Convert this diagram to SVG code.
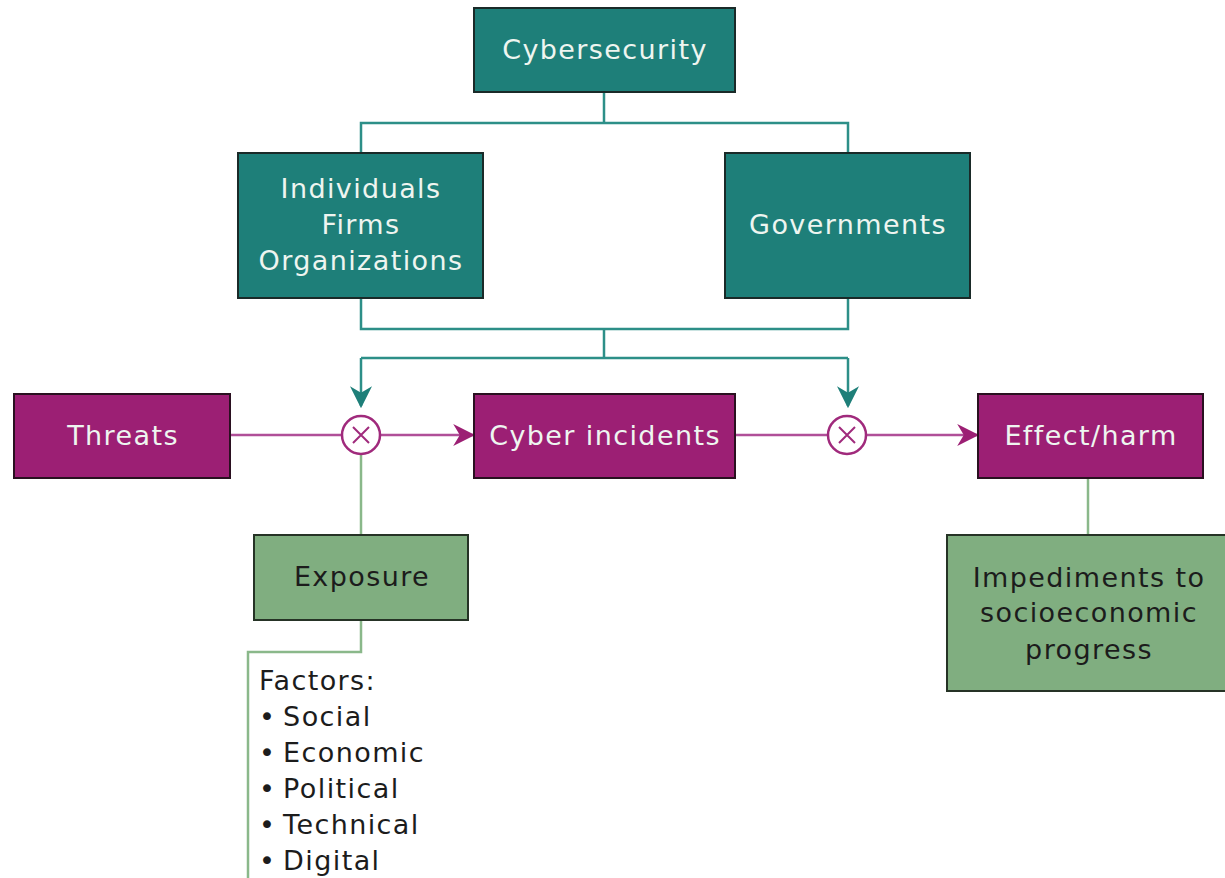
<svg xmlns="http://www.w3.org/2000/svg" width="1225" height="878" viewBox="0 0 1225 878">
<style>
.t{fill:#1e7f79;stroke:#1a2a28;stroke-width:2}
.m{fill:#9c1f74;stroke:#2a1020;stroke-width:2}
.g{fill:#80ae80;stroke:#263326;stroke-width:2}
.lt{fill:#eef5f0;font-family:"DejaVu Sans","Liberation Sans",sans-serif;font-size:27px;letter-spacing:1.4px;text-anchor:middle}
.dk{fill:#1c1c1c;font-family:"DejaVu Sans","Liberation Sans",sans-serif;font-size:27px;letter-spacing:1.4px;text-anchor:middle}
.cl{fill:none;stroke:#2d8f88;stroke-width:2.5}
.ml{fill:none;stroke:#b04f98;stroke-width:2.5}
.gl{fill:none;stroke:#8ab88a;stroke-width:2.5}
.cir{fill:#fff;stroke:#a02a7c;stroke-width:2.5}
</style>
<defs>
<marker id="ta" viewBox="0 0 10 10" refX="9" refY="5" markerWidth="22" markerHeight="22" orient="auto" markerUnits="userSpaceOnUse">
<path d="M0,0 L10,5 L0,10 L3,5 Z" fill="#1e7f79"/>
</marker>
<marker id="ma" viewBox="0 0 10 10" refX="9" refY="5" markerWidth="22" markerHeight="22" orient="auto" markerUnits="userSpaceOnUse">
<path d="M0,0 L10,5 L0,10 L3,5 Z" fill="#9c1f74"/>
</marker>
</defs>
<rect width="1225" height="878" fill="#fff"/>
<g id="connectors">
<path class="cl" d="M604,92 V123 M361,153 V123 H848 V153"/>
<path class="cl" d="M361,298 V329 H848 V298 M604,329 V358"/>
<path class="cl" d="M361,358 H848"/>
<path class="cl" d="M361,358 V406" marker-end="url(#ta)"/>
<path class="cl" d="M848,358 V406" marker-end="url(#ta)"/>
<path class="ml" d="M230,435 H342"/>
<path class="ml" d="M380,435 H473" marker-end="url(#ma)"/>
<path class="ml" d="M735,435 H828"/>
<path class="ml" d="M866,435 H977" marker-end="url(#ma)"/>
<path class="gl" d="M361,454 V535"/>
<path class="gl" d="M361,620 V652 H248 V878"/>
<path class="gl" d="M1088,478 V535"/>
</g>
<g id="cybersecurity"><rect class="t" x="474" y="8" width="261" height="84"/><text class="lt" x="605" y="59">Cybersecurity</text></g>
<g id="individuals"><rect class="t" x="238" y="153" width="245" height="145"/><text class="lt" x="361" y="198">Individuals</text><text class="lt" x="361" y="234">Firms</text><text class="lt" x="361" y="270">Organizations</text></g>
<g id="governments"><rect class="t" x="725" y="153" width="245" height="145"/><text class="lt" x="848" y="234">Governments</text></g>
<g id="threats"><rect class="m" x="14" y="394" width="216" height="84"/><text class="lt" x="123" y="445">Threats</text></g>
<g id="op1"><circle class="cir" cx="361" cy="435" r="19"/><path d="M353,427 L369,443 M369,427 L353,443" stroke="#a02a7c" stroke-width="2"/></g>
<g id="cyber-incidents"><rect class="m" x="474" y="394" width="261" height="84"/><text class="lt" x="605" y="445">Cyber incidents</text></g>
<g id="op2"><circle class="cir" cx="847" cy="435" r="19"/><path d="M839,427 L855,443 M855,427 L839,443" stroke="#a02a7c" stroke-width="2"/></g>
<g id="effect"><rect class="m" x="978" y="394" width="225" height="84"/><text class="lt" x="1091" y="445">Effect/harm</text></g>
<g id="exposure"><rect class="g" x="254" y="535" width="214" height="85"/><text class="dk" x="362" y="586">Exposure</text></g>
<g id="impediments"><rect class="g" x="947" y="535" width="280" height="156"/><text class="dk" x="1089" y="587">Impediments to</text><text class="dk" x="1089" y="622">socioeconomic</text><text class="dk" x="1089" y="659">progress</text></g>
<g id="factors" font-family="'DejaVu Sans','Liberation Sans',sans-serif" font-size="27" letter-spacing="1.4" fill="#1c1c1c">
<text x="259" y="690">Factors:</text>
<text x="259" y="726">•&#8201;Social</text>
<text x="259" y="762">•&#8201;Economic</text>
<text x="259" y="798">•&#8201;Political</text>
<text x="259" y="834">•&#8201;Technical</text>
<text x="259" y="870">•&#8201;Digital</text>
</g>
</svg>
